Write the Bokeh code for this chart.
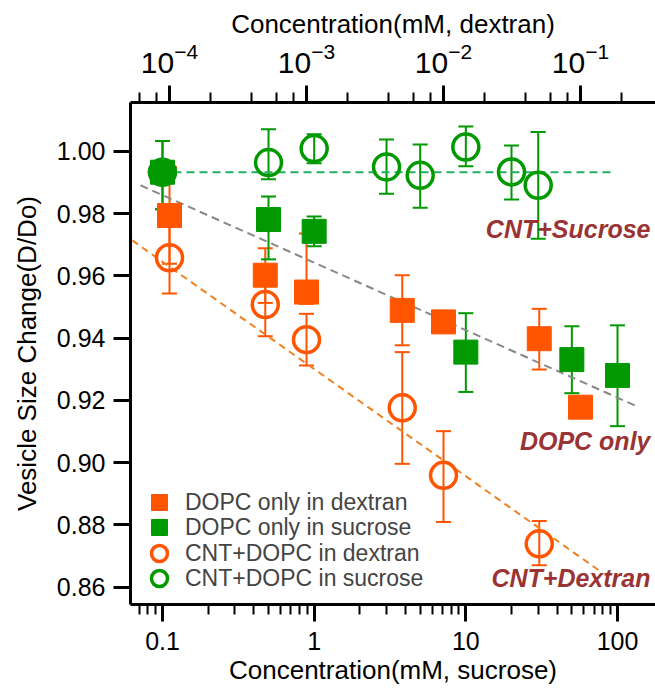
from bokeh.plotting import figure
from bokeh.models import (Range1d, LogAxis, LogScale, NumeralTickFormatter, SingleIntervalTicker,
                          ColumnDataSource, Whisker, TeeHead, Legend, LegendItem, Label)
from bokeh.embed import file_html
from bokeh.resources import INLINE

# ---------------- data ----------------
# DOPC only in dextran (x = dextran concentration, top axis)
dex_sq_x = [1e-4, 5e-4, 1e-3, 5e-3, 1e-2, 5e-2, 1e-1]
dex_sq_y = [0.9794, 0.9602, 0.9548, 0.9489, 0.9452, 0.9398, 0.9178]
dex_sq_lo = [0.9639, 0.9513, 0.9510, 0.9377, 0.9422, 0.9299, 0.9148]
dex_sq_hi = [0.9950, 0.9689, 0.9736, 0.9602, 0.9482, 0.9494, 0.9208]

# CNT+DOPC in dextran (top axis)
dex_ci_x = [1e-4, 5e-4, 1e-3, 5e-3, 1e-2, 5e-2]
dex_ci_y = [0.9658, 0.9508, 0.9395, 0.9176, 0.8959, 0.8739]
dex_ci_lo = [0.9543, 0.9406, 0.9312, 0.8996, 0.8809, 0.8670]
dex_ci_hi = [0.9773, 0.9610, 0.9478, 0.9355, 0.9101, 0.8812]

# DOPC only in sucrose (bottom axis)
suc_sq_x = [0.1, 0.5, 1, 10, 50, 100]
suc_sq_y = [0.9933, 0.9781, 0.9743, 0.9355, 0.9331, 0.9280]
suc_sq_lo = [0.9814, 0.9653, 0.9695, 0.9227, 0.9223, 0.9117]
suc_sq_hi = [1.0033, 0.9855, 0.9791, 0.9480, 0.9438, 0.9441]

# CNT+DOPC in sucrose (bottom axis)
suc_ci_x = [0.1, 0.5, 1, 3, 5, 10, 20, 30]
suc_ci_y = [0.9933, 0.9964, 1.0009, 0.9950, 0.9923, 1.0014, 0.9934, 0.9891]
suc_ci_lo = [0.9814, 0.9910, 0.9962, 0.9864, 0.9819, 0.9952, 0.9845, 0.9719]
suc_ci_hi = [1.0033, 1.0071, 1.0055, 1.0038, 1.0022, 1.0080, 1.0019, 1.0062]

# dashed trend lines (bottom-axis x)
fit_suc_x = [0.0796, 92.3]
fit_suc_y = [0.9933, 0.9933]
fit_dopc_x = [0.0716, 138.2]
fit_dopc_y = [0.9891, 0.9178]
fit_dex_x = [0.0631, 75.3]
fit_dex_y = [0.9714, 0.8654]

legend_labels = ["DOPC only in dextran", "DOPC only in sucrose",
                 "CNT+DOPC in dextran", "CNT+DOPC in sucrose"]
notes = ["CNT+Sucrose", "DOPC only", "CNT+Dextran"]
note_y = [0.9752, 0.9068, 0.8628]

ORANGE = "#ff5500"
GREEN = "#009900"
FONT = "Liberation Sans"
TXT = "#9a3434"

p = figure(width=655, height=689, x_axis_type="log",
           x_range=Range1d(10 ** -1.211, 10 ** 2.2505),
           y_range=Range1d(0.8544, 1.0157),
           output_backend="svg", toolbar_location=None,
           min_border_left=130, min_border_right=0, min_border_top=102, min_border_bottom=85)
p.extra_x_ranges = {"dex": Range1d(10 ** -4.2847, 10 ** -0.4526)}
p.extra_x_scales = {"dex": LogScale()}
p.grid.visible = False
p.outline_line_color = None
p.background_fill_color = "white"
p.border_fill_color = "white"

top = LogAxis(x_range_name="dex", axis_label="Concentration(mM, dextran)")
p.add_layout(top, "above")

bottom = p.below[0]
bottom.axis_label = "Concentration(mM, sucrose)"
bottom.formatter = NumeralTickFormatter(format="0.[0]")
left = p.yaxis[0]
left.axis_label = "Vesicle Size Change(D/Do)"
left.ticker = SingleIntervalTicker(interval=0.02)
left.formatter = NumeralTickFormatter(format="0.00")

for ax in (top, bottom, left):
    ax.axis_line_width = 3
    ax.axis_line_color = "black"
    ax.major_tick_line_width = 3
    ax.major_tick_line_color = "black"
    ax.major_tick_out = 17
    ax.major_tick_in = 0
    ax.minor_tick_line_width = 2
    ax.minor_tick_out = 10
    ax.minor_tick_in = 0
    ax.major_label_text_font = FONT
    ax.major_label_text_font_size = "25px"
    ax.major_label_text_color = "black"
    ax.axis_label_text_font = FONT
    ax.axis_label_text_font_size = "26px"
    ax.axis_label_text_font_style = "normal"
    ax.axis_label_text_color = "black"
left.minor_tick_line_color = None
left.major_label_standoff = 8
left.axis_label_standoff = 12
bottom.major_label_standoff = 10
bottom.axis_label_standoff = 2
top.major_label_text_font_size = "30px"
top.major_label_standoff = 13
top.axis_label_standoff = 1

# dashed lines
p.line(fit_dex_x, fit_dex_y, line_color="#f08020", line_width=2, line_dash="7 5")
p.line(fit_dopc_x, fit_dopc_y, line_color="#888888", line_width=2, line_dash="8 5")
p.line(fit_suc_x, fit_suc_y, line_color="#20b060", line_width=2, line_dash="8 5")


def whisk(x, lo, hi, color, rng="default"):
    src = ColumnDataSource(dict(x=x, lo=lo, hi=hi))
    w = Whisker(base="x", lower="lo", upper="hi", source=src, dimension="height",
                line_color=color, line_width=2, x_range_name=rng,
                upper_head=TeeHead(size=15, line_color=color, line_width=2),
                lower_head=TeeHead(size=15, line_color=color, line_width=2))
    p.add_layout(w)


whisk(dex_sq_x, dex_sq_lo, dex_sq_hi, ORANGE, "dex")
whisk(dex_ci_x, dex_ci_lo, dex_ci_hi, ORANGE, "dex")
whisk(suc_sq_x, suc_sq_lo, suc_sq_hi, GREEN)
whisk(suc_ci_x, suc_ci_lo, suc_ci_hi, GREEN)

r_dsq = p.scatter(dex_sq_x, dex_sq_y, marker="square", size=24, fill_color=ORANGE,
                  line_color=ORANGE, x_range_name="dex")
r_ssq = p.scatter(suc_sq_x, suc_sq_y, marker="square", size=24, fill_color=GREEN, line_color=GREEN)
r_dci = p.scatter(dex_ci_x, dex_ci_y, marker="circle", size=26, fill_color=None,
                  line_color=ORANGE, line_width=3.5, x_range_name="dex")
r_sci = p.scatter(suc_ci_x, suc_ci_y, marker="circle", size=26, fill_color=None,
                  line_color=GREEN, line_width=3.5)

# one single-item legend per row, so rows can sit closer than the glyph box
row_offsets = [82, 57, 31, 6]
for lab, rend, off in zip(legend_labels, [r_dsq, r_ssq, r_dci, r_sci], row_offsets):
    lg = Legend(items=[LegendItem(label=lab, renderers=[rend])],
                location=(9, off), glyph_width=40, glyph_height=40, spacing=0,
                padding=0, margin=0, label_standoff=6, label_text_font=FONT,
                label_text_font_size="23px", border_line_color=None,
                background_fill_alpha=0)
    p.add_layout(lg, "center")

for txt, yv in zip(notes, note_y):
    p.add_layout(Label(x=165, y=yv, text=txt, text_align="right", text_baseline="middle",
                       text_font=FONT, text_font_size="25px", text_font_style="bold italic",
                       text_color=TXT))

open("out.html", "w").write(file_html(p, INLINE))
